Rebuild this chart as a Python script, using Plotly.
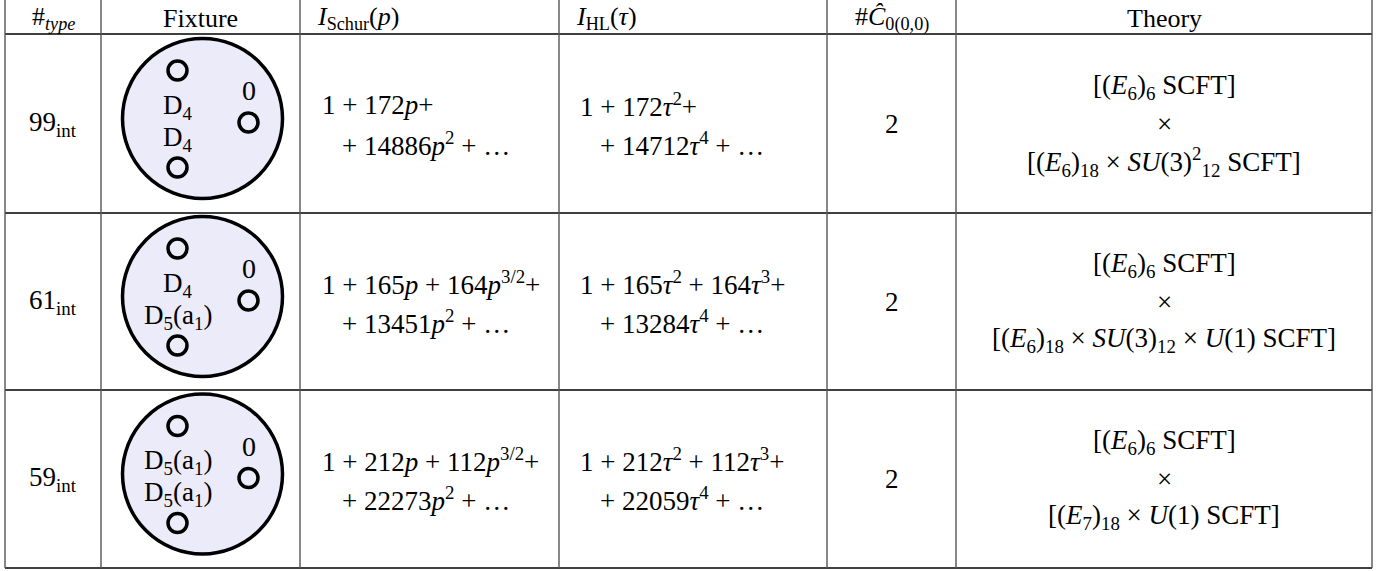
import plotly.graph_objects as go

# table content
headers = ["#<sub><i>type</i></sub>", "Fixture", "<i>I</i><sub>Schur</sub>(<i>p</i>)",
           "<i>I</i><sub>HL</sub>(<i>τ</i>)", "#<i>Ĉ</i><sub>0(0,0)</sub>", "Theory"]
types = ["99<sub>int</sub>", "61<sub>int</sub>", "59<sub>int</sub>"]
fixture_upper = ["D<sub>4</sub>", "D<sub>4</sub>", "D<sub>5</sub>(a<sub>1</sub>)"]
fixture_lower = ["D<sub>4</sub>", "D<sub>5</sub>(a<sub>1</sub>)", "D<sub>5</sub>(a<sub>1</sub>)"]
fixture_mark = ["0", "0", "0"]
schur_first = ["1 + 172<i>p</i>+",
               "1 + 165<i>p</i> + 164<i>p</i><sup>3/2</sup>+",
               "1 + 212<i>p</i> + 112<i>p</i><sup>3/2</sup>+"]
schur_second = ["+ 14886<i>p</i><sup>2</sup> + …",
                "+ 13451<i>p</i><sup>2</sup> + …",
                "+ 22273<i>p</i><sup>2</sup> + …"]
hl_first = ["1 + 172<i>τ</i><sup>2</sup>+",
            "1 + 165<i>τ</i><sup>2</sup> + 164<i>τ</i><sup>3</sup>+",
            "1 + 212<i>τ</i><sup>2</sup> + 112<i>τ</i><sup>3</sup>+"]
hl_second = ["+ 14712<i>τ</i><sup>4</sup> + …",
             "+ 13284<i>τ</i><sup>4</sup> + …",
             "+ 22059<i>τ</i><sup>4</sup> + …"]
counts = ["2", "2", "2"]
theory_first = ["[(<i>E</i><sub>6</sub>)<sub>6</sub> SCFT]"] * 3
theory_third = ["[(<i>E</i><sub>6</sub>)<sub>18</sub> × <i>SU</i>(3)<sup>2</sup><sub>12</sub> SCFT]",
                "[(<i>E</i><sub>6</sub>)<sub>18</sub> × <i>SU</i>(3)<sub>12</sub> × <i>U</i>(1) SCFT]",
                "[(<i>E</i><sub>7</sub>)<sub>18</sub> × <i>U</i>(1) SCFT]"]

W, H = 1390, 571
col_edges = [5, 101, 300, 559, 827, 956, 1372]
row_edges = [0, 34, 213, 390, 568]
FONT = "Liberation Serif"
FS = 27

fig = go.Figure()
shapes = []
annotations = []


def text(x, y, s, size=FS, anchor="center"):
    annotations.append(dict(x=x, y=y, xref="x", yref="y", text=s, showarrow=False,
                            xanchor=anchor, yanchor="middle",
                            font=dict(family=FONT, size=size, color="black")))


# grid
for y in row_edges[1:]:
    shapes.append(dict(type="line", x0=col_edges[0], x1=col_edges[-1], y0=y, y1=y,
                       line=dict(color="black", width=1.4)))
for x in col_edges:
    shapes.append(dict(type="line", x0=x, x1=x, y0=0, y1=row_edges[-1],
                       line=dict(color="#555555", width=1.4)))

# header
hy = 18
centers = [(col_edges[i] + col_edges[i + 1]) / 2 for i in range(6)]
text(centers[0], hy, headers[0], size=26)
text(centers[1], hy, headers[1], size=26)
text(col_edges[2] + 15, hy, headers[2], size=26, anchor="left")
text(col_edges[3] + 15, hy, headers[3], size=26, anchor="left")
text(centers[4], hy, headers[4], size=26)
text(centers[5], hy, headers[5], size=26)

lav = "#EBEBFA"
for i in range(3):
    top, bot = row_edges[i + 1], row_edges[i + 2]
    cy = (top + bot) / 2
    text(centers[0], cy, types[i])

    # fixture disc
    fx, fy = centers[1] + 2, cy - 5
    shapes.append(dict(type="circle", x0=fx - 80, x1=fx + 80, y0=fy - 80, y1=fy + 80,
                       fillcolor=lav, line=dict(color="black", width=3.5)))
    for dx, dy in [(-25, -48), (46, 4), (-25, 49)]:
        shapes.append(dict(type="circle", x0=fx + dx - 9.5, x1=fx + dx + 9.5,
                           y0=fy + dy - 9.5, y1=fy + dy + 9.5,
                           fillcolor=lav, line=dict(color="black", width=3.5)))
    text(fx - 25, fy - 12, fixture_upper[i], size=27)
    text(fx - 25, fy + 20, fixture_lower[i], size=27)
    text(fx + 46, fy - 28, fixture_mark[i], size=28)

    text(col_edges[2] + 20, cy - 19, schur_first[i], anchor="left")
    text(col_edges[2] + 40, cy + 20, schur_second[i], anchor="left")
    text(col_edges[3] + 19, cy - 19, hl_first[i], anchor="left")
    text(col_edges[3] + 39, cy + 20, hl_second[i], anchor="left")
    text(centers[4], cy, counts[i])
    text(centers[5], cy - 37, theory_first[i])
    text(centers[5], cy, "×")
    text(centers[5], cy + 38, theory_third[i])

fig.update_layout(
    width=W, height=H, margin=dict(l=0, r=0, t=0, b=0),
    paper_bgcolor="white", plot_bgcolor="white",
    xaxis=dict(range=[0, W], visible=False, fixedrange=True),
    yaxis=dict(range=[H, 0], visible=False, fixedrange=True),
    shapes=shapes, annotations=annotations, showlegend=False,
)

# drop the page's default body margin so the figure sits at the window's corner
fig.write_html("out.html", config={"displayModeBar": False},
               post_script="document.body.style.margin='0';")
